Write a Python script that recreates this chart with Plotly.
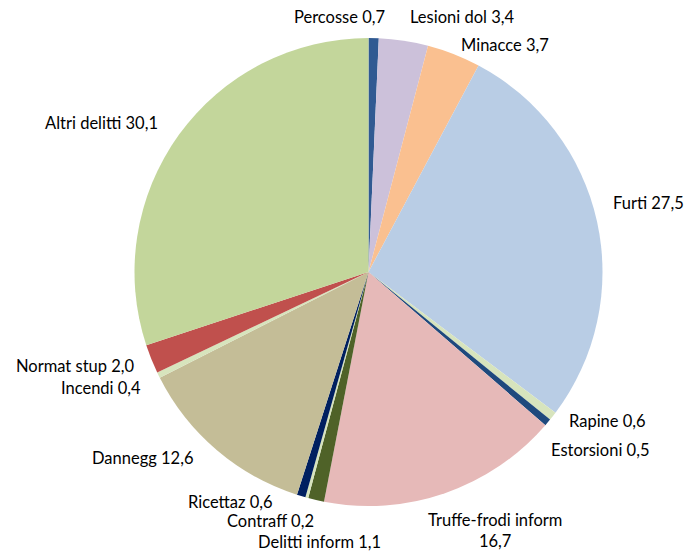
import plotly.graph_objects as go

W, H = 685, 552

categories = ["Percosse", "Lesioni dol", "Minacce", "Furti", "Rapine", "Estorsioni",
              "Truffe-frodi inform", "Delitti inform", "Contraff", "Ricettaz",
              "Dannegg", "Incendi", "Normat stup", "Altri delitti"]
values = [0.7, 3.4, 3.7, 27.5, 0.6, 0.5, 16.7, 1.1, 0.2, 0.6, 12.6, 0.4, 2.0, 30.1]
colors = ["#305A92", "#CCC1DA", "#FAC090", "#B9CDE5", "#D7E4BD", "#1F497D",
          "#E6B9B8", "#4F6228", "#D7E4BD", "#002060", "#C4BD97", "#D7E4BD",
          "#C0504D", "#C3D69B"]

# label placement (pixels): x, y(centre), anchor
label_pos = [(387, 17, "right"), (408, 17, "left"), (459, 45, "left"), (611, 203, "left"),
             (567, 421, "left"), (549, 450, "left"), (495, 530, "center"),
             (383, 542, "right"), (316, 521, "right"), (275, 502, "right"),
             (195, 458, "right"), (143, 388, "right"), (137, 366, "right"),
             (160, 123, "right")]

def fmt(v):
    return f"{v:.1f}".replace(".", ",")

cx, cy, r = 368.5, 272, 234

fig = go.Figure(go.Pie(
    labels=categories, values=values, sort=False, direction="clockwise", rotation=0,
    marker=dict(colors=colors, line=dict(width=0)),
    textinfo="none", hoverinfo="label+value", showlegend=False,
    domain=dict(x=[(cx - r) / W, (cx + r) / W], y=[1 - (cy + r) / H, 1 - (cy - r) / H]),
))

annotations = []
for cat, v, (px, py, anc) in zip(categories, values, label_pos):
    text = f"{cat} {fmt(v)}"
    if cat == "Truffe-frodi inform":
        text = f"{cat}<br>{fmt(v)}"
    annotations.append(dict(
        text=text, x=px / W, y=1 - py / H, xref="paper", yref="paper",
        xanchor=anc, yanchor="middle", showarrow=False,
        font=dict(family="Lato, Open Sans, sans-serif", size=16.5, color="#000000"),
    ))

fig.update_layout(
    width=W, height=H, margin=dict(l=0, r=0, t=0, b=0),
    paper_bgcolor="white", plot_bgcolor="white", annotations=annotations,
)

fig.write_html("out.html", config={"displayModeBar": False},
               post_script="document.body.style.margin='0';document.body.style.padding='0';")
